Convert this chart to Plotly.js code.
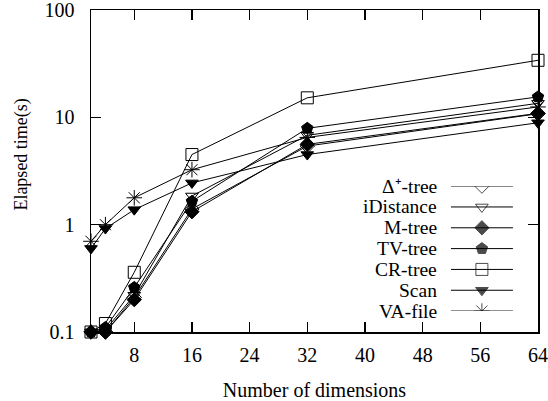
<!DOCTYPE html>
<html>
<head>
<meta charset="utf-8">
<script src="https://cdn.plot.ly/plotly-3.0.1.min.js"></script>
<style>html,body{margin:0;padding:0;background:#fff;}#chart{width:548px;height:401px;}</style>
</head>
<body>
<div id="chart"></div>
<script>
// ---- data ----
var dims = [2, 4, 8, 16, 32, 64];
var seriesNames = ["Δ⁺-tree", "iDistance", "M-tree", "TV-tree", "CR-tree", "Scan", "VA-file"];
var deltaTree = [0.1, 0.1, 0.21, 1.4, 5.4, 10.8];
var iDistance = [0.1, 0.105, 0.22, 1.85, 6.8, 13.5];
var mTree     = [0.1, 0.1, 0.2, 1.32, 5.6, 10.9];
var tvTree    = [0.1, 0.11, 0.26, 1.65, 7.9, 15.5];
var crTree    = [0.1, 0.12, 0.36, 4.5, 15.2, 34];
var scan      = [0.6, 0.92, 1.38, 2.45, 4.5, 8.9];
var vaFile    = [0.7, 1.0, 1.78, 3.25, 6.5, 12.5];
var xTicks = [8, 16, 24, 32, 40, 48, 56, 64];
var yTicks = [0.1, 1, 10, 100];
var yTickText = ["0.1", "1", "10", "100"];

var seriesValues = [deltaTree, iDistance, mTree, tvTree, crTree, scan, vaFile];
var symbols = ["diamond-open", "triangle-down-open", "diamond", "pentagon", "square-open", "triangle-down", "asterisk-open"];
var sizes = [11, 11, 11, 12, 12, 11, 13];
var FONT = "Liberation Serif";

var traces = [];
for (var i = 0; i < seriesValues.length; i++) {
  traces.push({
    x: dims, y: seriesValues[i], type: "scatter", mode: "lines+markers",
    name: seriesNames[i], showlegend: false,
    line: {color: "black", width: 1},
    marker: {symbol: symbols[i], size: sizes[i], color: "black", line: {color: "black", width: 1}},
    cliponaxis: false
  });
}
// custom legend samples (text left, sample right)
var annotations = [];
for (var j = 0; j < seriesNames.length; j++) {
  traces.push({
    x: [0, 0.5, 1], y: [j, j, j], xaxis: "x2", yaxis: "y2",
    type: "scatter", mode: "lines+markers", showlegend: false, hoverinfo: "skip",
    line: {color: "black", width: 1},
    marker: {symbol: symbols[j], size: [0, sizes[j], 0], color: "black", line: {color: "black", width: 1}}
  });
  annotations.push({
    xref: "x2", yref: "y2", x: 0, y: j, xanchor: "right", yanchor: "middle",
    xshift: -12, text: seriesNames[j], showarrow: false,
    font: {family: FONT, size: 19.5, color: "black"}
  });
}
annotations.push({
  xref: "paper", yref: "paper", x: -0.155, y: 0.55, xanchor: "center", yanchor: "middle",
  text: "Elapsed time(s)", textangle: -90, showarrow: false,
  font: {family: FONT, size: 18, color: "black"}
});

var layout = {
  width: 548, height: 401,
  margin: {l: 91, r: 10, t: 10, b: 69},
  paper_bgcolor: "white", plot_bgcolor: "white",
  font: {family: FONT, size: 20, color: "black"},
  showlegend: false,
  xaxis: {
    range: [2, 64], tickvals: xTicks, ticks: "inside", ticklen: 10, tickwidth: 1.5,
    tickcolor: "black", mirror: "ticks", showline: true, linecolor: "black", linewidth: 1.5,
    showgrid: false, zeroline: false,
    title: {text: "Number of dimensions", font: {family: FONT, size: 20}, standoff: 18},
    tickfont: {family: FONT, size: 20}, ticklabelstandoff: 4
  },
  yaxis: {
    type: "log", range: [-1, 2], tickvals: yTicks, ticktext: yTickText,
    ticks: "inside", ticklen: 10, tickwidth: 1.5, tickcolor: "black", mirror: "ticks",
    showline: true, linecolor: "black", linewidth: 1.5, showgrid: false, zeroline: false,
    tickfont: {family: FONT, size: 20}, ticklabelstandoff: 11, ticklabeloverflow: "allow"
  },
  xaxis2: {domain: [0.805, 0.944], range: [0, 1], visible: false, fixedrange: true, anchor: "y2"},
  yaxis2: {domain: [0.065, 0.453], range: [6, 0], visible: false, fixedrange: true, anchor: "x2"},
  annotations: annotations
};
Plotly.newPlot("chart", traces, layout, {displayModeBar: false, staticPlot: true});
</script>
</body>
</html>
